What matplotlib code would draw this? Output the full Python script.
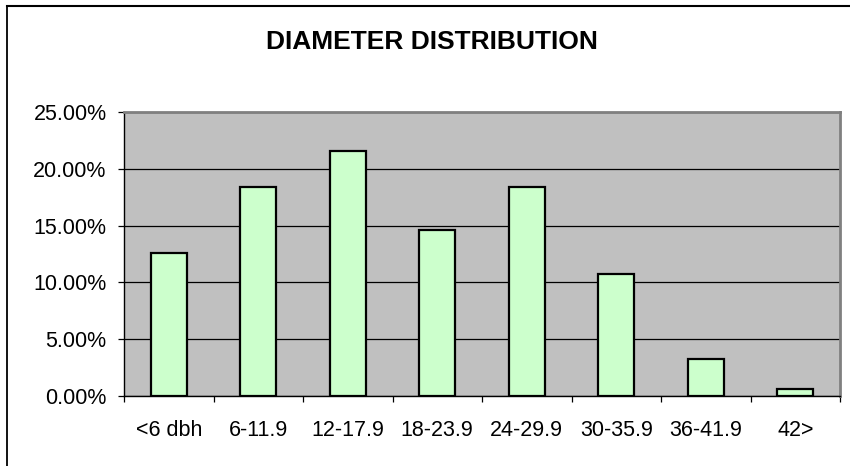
import matplotlib
matplotlib.use("Agg")
import matplotlib.pyplot as plt
from matplotlib.lines import Line2D
from matplotlib.ticker import FuncFormatter, FixedLocator

categories = ["<6 dbh", "6-11.9", "12-17.9", "18-23.9", "24-29.9", "30-35.9", "36-41.9", "42>"]
values = [12.6, 18.4, 21.6, 14.6, 18.4, 10.7, 3.3, 0.6]  # percent
yticks = [0, 5, 10, 15, 20, 25]
title = "DIAMETER DISTRIBUTION"

plt.rcParams['font.family'] = ['Liberation Sans', 'DejaVu Sans']

W, H = 850, 466
fig = plt.figure(figsize=(W / 100, H / 100), dpi=100)
fig.patch.set_facecolor("white")

# outer chart frame: only left and top edges visible
fx, fy = 6.5 / W, 1 - 5.5 / H
fig.lines.append(Line2D([fx, fx], [0, fy], transform=fig.transFigure, color="black", linewidth=1.3))
fig.lines.append(Line2D([fx, 1.0], [fy, fy], transform=fig.transFigure, color="black", linewidth=1.5))

ax = fig.add_axes([124 / W, (H - 396) / H, (840 - 124) / W, (396 - 112) / H])
ax.set_facecolor("#C0C0C0")

x = list(range(len(categories)))
ax.bar(x, values, width=0.40, color="#CCFFCC", edgecolor="black", linewidth=1.6, zorder=3)

ax.set_xlim(-0.5, len(categories) - 0.5)
ax.set_ylim(0, 25)

ax.set_yticks(yticks)
ax.yaxis.set_major_formatter(FuncFormatter(lambda v, p: f"{v:.2f}%"))
ax.yaxis.grid(True, color="black", linewidth=0.9, zorder=1)
ax.set_axisbelow(True)

ax.xaxis.set_major_locator(FixedLocator([i - 0.5 for i in range(len(categories) + 1)]))
ax.xaxis.set_major_formatter(FuncFormatter(lambda v, p: ""))
ax.xaxis.set_minor_locator(FixedLocator(x))
ax.set_xticklabels(categories, minor=True)
ax.tick_params(axis="x", which="major", direction="out", length=4.5, width=0.9, color="black")
ax.tick_params(axis="x", which="minor", length=0, pad=17, labelsize=15.5)
ax.tick_params(axis="y", direction="out", length=4.5, width=0.9, pad=8, labelsize=15.5)

for s in ["left", "bottom"]:
    ax.spines[s].set_color("black")
    ax.spines[s].set_linewidth(1.0)
for s in ["top", "right"]:
    ax.spines[s].set_color("#808080")
    ax.spines[s].set_linewidth(2.0)

fig.text(432 / W, 1 - 42 / H, title, ha="center", va="center", fontsize=19, fontweight="bold")

fig.savefig("out.png", dpi=100)
